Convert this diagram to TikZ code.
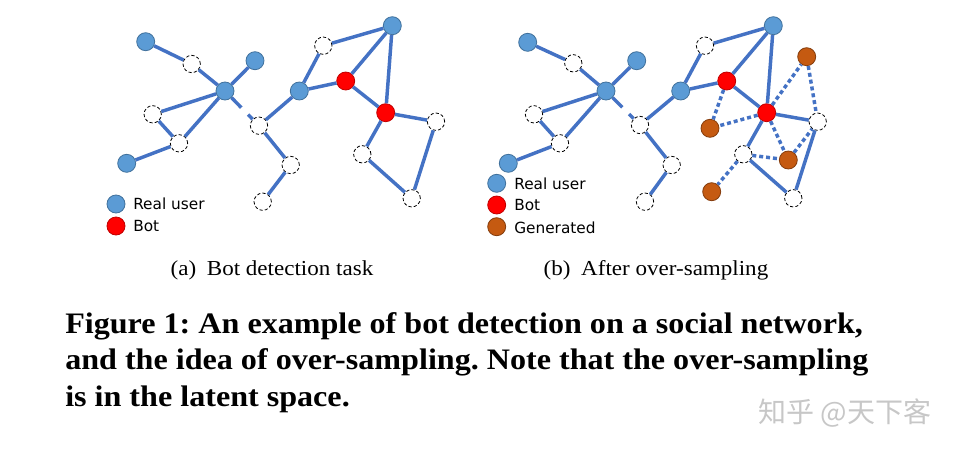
\documentclass[tikz,border=0pt]{standalone}
\usepackage{fontspec}
\setmainfont{Liberation Serif}
\newfontfamily\capfont{Liberation Serif}[FakeStretch=1.08]
\newfontfamily\legendfont{DejaVu Sans}
\newfontfamily\cjkfont{Noto Sans CJK SC}
\usetikzlibrary{calc}
\frenchspacing

\definecolor{userblue}{HTML}{5B9BD5}
\definecolor{userline}{HTML}{41719C}
\definecolor{edgeblue}{HTML}{4472C4}
\definecolor{botred}{HTML}{FF0000}
\definecolor{botline}{HTML}{C00000}
\definecolor{genbrown}{HTML}{C55A11}
\definecolor{genline}{HTML}{843C0C}

\begin{document}
\begin{tikzpicture}[
    x=0.75pt, y=-0.75pt,
    user/.style={circle, draw=userline, line width=0.6pt, fill=userblue,
        minimum size=13.5pt, inner sep=0pt},
    bot/.style={circle, draw=botline, line width=0.6pt, fill=botred,
        minimum size=13.5pt, inner sep=0pt},
    gen/.style={circle, draw=genline, line width=0.6pt, fill=genbrown,
        minimum size=13.5pt, inner sep=0pt},
    unk/.style={circle, draw=black, dash pattern=on 2.4pt off 1.6pt,
        line width=0.6pt, fill=white, minimum size=13pt, inner sep=0pt},
    link/.style={draw=edgeblue, line width=2.6pt},
    synth/.style={draw=edgeblue, line width=2.6pt, dash pattern=on 3pt off 2.2pt},
    legendtext/.style={font=\legendfont\fontsize{11.5}{13}\selectfont,
        anchor=west, inner sep=0pt},
    subcap/.style={font=\capfont\fontsize{16}{19}\selectfont, anchor=base, inner sep=0pt},
    figcap/.style={font=\capfont\bfseries\fontsize{22.3}{27}\selectfont,
        anchor=base west, inner sep=0pt}
]
    \useasboundingbox (0,0) rectangle (961,454);

    %------------------------------------------------
    % (a) Bot detection task
    %------------------------------------------------
    \node[user] (aA1) at (145.7,41.7) {};
    \node[unk]  (ad1) at (191.7,64) {};
    \node[user] (aA2) at (255,60.7) {};
    \node[user] (aH)  at (225,91) {};
    \node[unk]  (ad2) at (152.7,114.3) {};
    \node[unk]  (ad3) at (179,143.3) {};
    \node[user] (aA3) at (126.7,163.3) {};
    \node[unk]  (ad4) at (259,125.7) {};
    \node[unk]  (ad5) at (290.7,165) {};
    \node[unk]  (ad6) at (262.7,201.7) {};
    \node[user] (aB)  at (299.3,91) {};
    \node[unk]  (ad7) at (323.3,45.7) {};
    \node[user] (aT)  at (392.3,25.7) {};
    \node[bot]  (aR1) at (345.7,81) {};
    \node[bot]  (aR2) at (385.7,112.7) {};
    \node[unk]  (ad8) at (436,121.7) {};
    \node[unk]  (ad9) at (362.3,154.3) {};
    \node[unk]  (ad10) at (411.7,198.3) {};

    \draw[link] (aA1) -- (ad1);
    \draw[link] (ad1) -- (aH);
    \draw[link] (aA2) -- (aH);
    \draw[link] (aH) -- (ad2);
    \draw[link] (ad2) -- (ad3);
    \draw[link] (ad3) -- (aH);
    \draw[link] (aA3) -- (ad3);
    \draw[link] (aH) -- ($(aH)!0.48!(ad4)$);
    \draw[link] ($(aH)!0.68!(ad4)$) -- (ad4);
    \draw[link] (ad4) -- (aB);
    \draw[link] (ad4) -- (ad5);
    \draw[link] (ad5) -- (ad6);
    \draw[link] (aB) -- (ad7);
    \draw[link] (ad7) -- (aT);
    \draw[link] (aB) -- (aR1);
    \draw[link] (aR1) -- (aT);
    \draw[link] (aR1) -- (aR2);
    \draw[link] (aT) -- (aR2);
    \draw[link] (aR2) -- (ad8);
    \draw[link] (aR2) -- (ad9);
    \draw[link] (ad9) -- (ad10);
    \draw[link] (ad10) -- (ad8);

    \node[user] (aLu) at (116,204) {};
    \node[bot]  (aLb) at (116,226) {};
    \node[legendtext] (aTu) at (133,204) {Real user};
    \node[legendtext] (aTb) at (133,226) {Bot};

    \node[subcap] (suba) at (272,275.7) {(a)\enspace Bot detection task};

    %------------------------------------------------
    % (b) After over-sampling
    %------------------------------------------------
    \node[user] (bA1) at (527.7,42.3) {};
    \node[unk]  (bd1) at (573.3,63.3) {};
    \node[user] (bA2) at (636.7,60.7) {};
    \node[user] (bH)  at (606,91) {};
    \node[unk]  (bd2) at (534,114.3) {};
    \node[unk]  (bd3) at (560,143.3) {};
    \node[user] (bA3) at (508.3,163.3) {};
    \node[unk]  (bd4) at (640,125) {};
    \node[unk]  (bd5) at (671.7,165) {};
    \node[unk]  (bd6) at (645,201.7) {};
    \node[user] (bB)  at (680.7,91) {};
    \node[unk]  (bd7) at (705,45.7) {};
    \node[user] (bT)  at (773.3,25.7) {};
    \node[bot]  (bR1) at (726.7,81) {};
    \node[bot]  (bR2) at (766.7,112.7) {};
    \node[unk]  (bd8) at (817.7,121.7) {};
    \node[unk]  (bd9) at (743.3,154.3) {};
    \node[unk]  (bd10) at (793.3,198.3) {};
    \node[gen]  (bG1) at (806.7,56.7) {};
    \node[gen]  (bG2) at (710,128.3) {};
    \node[gen]  (bG3) at (788.3,160) {};
    \node[gen]  (bG4) at (711.7,191.7) {};

    \draw[link] (bA1) -- (bd1);
    \draw[link] (bd1) -- (bH);
    \draw[link] (bA2) -- (bH);
    \draw[link] (bH) -- (bd2);
    \draw[link] (bd2) -- (bd3);
    \draw[link] (bd3) -- (bH);
    \draw[link] (bA3) -- (bd3);
    \draw[link] (bH) -- ($(bH)!0.48!(bd4)$);
    \draw[link] ($(bH)!0.68!(bd4)$) -- (bd4);
    \draw[link] (bd4) -- (bB);
    \draw[link] (bd4) -- (bd5);
    \draw[link] (bd5) -- (bd6);
    \draw[link] (bB) -- (bd7);
    \draw[link] (bd7) -- (bT);
    \draw[link] (bB) -- (bR1);
    \draw[link] (bR1) -- (bT);
    \draw[link] (bR1) -- (bR2);
    \draw[link] (bT) -- (bR2);
    \draw[link] (bR2) -- (bd8);
    \draw[link] (bR2) -- (bd9);
    \draw[link] (bd9) -- (bd10);
    \draw[link] (bd10) -- (bd8);

    % generated samples
    \draw[synth] (bR1) -- (bG2);
    \draw[synth] (bR2) -- (bG2);
    \draw[synth] (bR2) -- (bG1);
    \draw[synth] (bG1) -- (bd8);
    \draw[synth] (bR2) -- (bG3);
    \draw[synth] (bG3) -- (bd8);
    \draw[synth] (bd9) -- (bG3);
    \draw[synth] (bd9) -- (bG4);

    \node[user] (bLu) at (496.7,183.3) {};
    \node[bot]  (bLb) at (496.7,205) {};
    \node[gen]  (bLg) at (496.7,226.7) {};
    \node[legendtext] (bTu) at (514,183.3) {Real user};
    \node[legendtext] (bTb) at (514,205) {Bot};
    \node[legendtext] (bTg) at (514,228) {Generated};

    \node[subcap] (subb) at (656,275.7) {(b)\enspace After over-sampling};

    %------------------------------------------------
    % caption
    %------------------------------------------------
    \node[figcap] (cap1) at (65,333.3) {Figure 1: An example of bot detection on a social network,};
    \node[figcap] (cap2) at (65,369.8) {and the idea of over-sampling. Note that the over-sampling};
    \node[figcap] (cap3) at (65,406.3) {is in the latent space.};

    \node[font=\cjkfont\fontsize{21}{24}\selectfont, text=black!22, inner sep=0pt]
        (mark) at (845,413) {知乎 @天下客};

\end{tikzpicture}
\end{document}
